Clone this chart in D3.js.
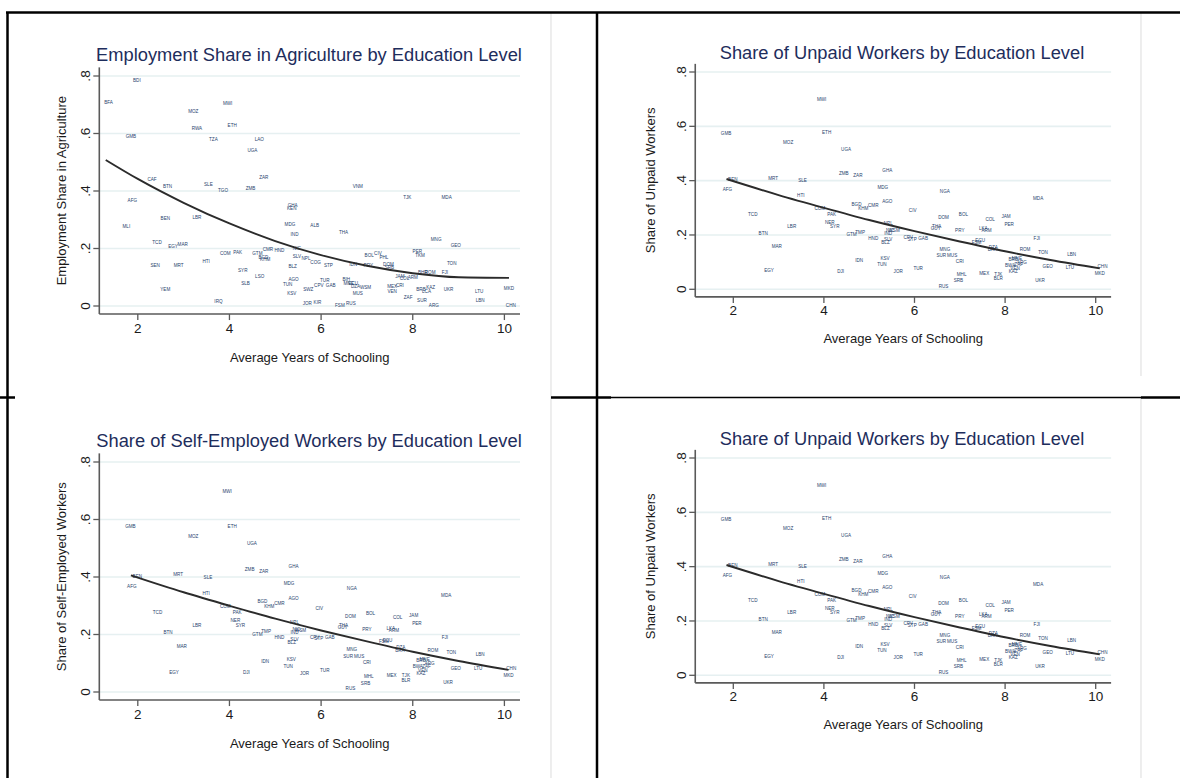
<!DOCTYPE html>
<html><head><meta charset="utf-8">
<script src="https://cdn.jsdelivr.net/npm/d3@7"></script>
<style>body{margin:0;background:#fff}svg{display:block}</style>
</head><body>
<svg id="c" width="1180" height="778"></svg>
<script>
// ---------- DATA ----------
const agCodes = ["BDI","BFA","MOZ","MWI","RWA","ETH","GMB","TZA","LAO","UGA","ZAR","CAF","BTN","SLE","TGO","ZMB","VNM","TJK","MDA","AFG","GHA","KEN","BEN","LBR","MLI","MDG","ALB","THA","IND","MNG","GEO","TCD","EGY","MAR","COM","PAK","GTM","CMR","HND","BGD","KHM","NIC","SLV","NPL","COG","STP","BLZ","HTI","SEN","MRT","SYR","LSO","SLB","AGO","TUN","KSV","SWZ","TUR","CPV","GAB","BOL","CIV","PHL","IDN","PRY","DOM","SRB","PER","TKM","TON","BHR","ROM","FJI","JAM","COL","ARM","IRQ","YEM","JOR","KIR","FSM","RUS","BIH","MNE","ECU","DZA","MUS","WSM","MEX","CRI","VEN","ZAF","SUR","ARG","BRB","KAZ","LCA","UKR","LTU","LBN","MKD","CHN"];
const agSchooling = [1.98,1.36,3.21,3.96,3.29,4.06,1.85,3.65,4.65,4.50,4.75,2.31,2.65,3.54,3.86,4.46,6.80,7.88,8.74,1.88,5.38,5.36,2.60,3.29,1.75,5.32,5.86,6.49,5.42,8.51,8.94,2.42,2.77,2.98,3.91,4.18,4.61,4.84,5.09,4.74,4.78,5.47,5.47,5.67,5.88,6.16,5.38,3.49,2.38,2.89,4.29,4.66,4.35,5.40,5.27,5.36,5.72,6.08,5.95,6.21,7.05,7.24,7.37,6.70,7.03,7.47,7.49,8.10,8.16,8.85,8.22,8.38,8.70,7.72,7.82,8.00,3.76,2.60,5.70,5.92,6.41,6.65,6.55,6.60,6.70,6.75,6.80,6.97,7.55,7.72,7.55,7.90,8.20,8.46,8.18,8.39,8.30,8.78,9.45,9.47,10.10,10.14];
const agShare = [.785,.708,.675,.706,.617,.627,.591,.580,.580,.542,.446,.441,.416,.423,.402,.410,.417,.378,.378,.366,.350,.338,.303,.307,.277,.285,.281,.255,.248,.233,.210,.222,.208,.213,.182,.186,.181,.195,.192,.170,.163,.200,.171,.164,.152,.140,.137,.154,.140,.140,.123,.104,.079,.091,.075,.042,.056,.087,.072,.072,.174,.183,.169,.146,.140,.145,.135,.189,.177,.147,.117,.117,.117,.101,.097,.100,.014,.058,.009,.012,.001,.007,.092,.078,.077,.068,.044,.065,.069,.072,.049,.031,.020,.003,.058,.065,.051,.059,.052,.020,.060,.003];

const unpaidCodes = ["MWI","GMB","ETH","MOZ","UGA","ZMB","ZAR","GHA","MRT","SLE","BEN","AFG","MDG","HTI","AGO","BGD","KHM","CMR","TCD","COM","PAK","NER","SYR","LBR","NPL","BTN","MAR","EGY","DJI","IDN","GTM","TMP","HND","SLV","BLZ","IND","NIC","KSV","TUN","JOR","NGA","MDA","CIV","DOM","BOL","COL","JAM","PER","THA","GUY","PRY","LKA","ARM","GAB","CPV","STP","FJI","ECU","FSM","DZA","BRA","ROM","TON","LBN","MNG","SUR","MUS","CRI","MNE","BRB","ARG","BWA","GEO","LTU","MKD","CHN","MHL","MEX","TJK","BLR","SRB","UKR","RUS","TUR","KAZ","VEN","ZAF","WSM"];
const unpaidSchooling = [3.95,1.84,4.06,3.21,4.49,4.44,4.75,5.40,2.88,3.53,1.99,1.87,5.30,3.49,5.40,4.72,4.87,5.09,2.43,3.91,4.17,4.13,4.24,3.29,5.42,2.66,2.96,2.79,4.37,4.78,4.61,4.80,5.09,5.42,5.36,5.42,5.46,5.35,5.28,5.64,6.67,8.73,5.96,6.64,7.08,7.67,8.02,8.09,6.49,6.47,7.00,7.52,7.59,6.19,5.86,5.95,8.70,7.45,7.37,7.74,7.72,8.44,8.84,9.47,6.67,6.59,6.83,7.00,8.26,8.18,8.37,8.11,8.94,9.43,10.09,10.15,7.04,7.54,7.85,7.85,6.97,8.77,6.64,6.08,8.18,8.22,8.30,5.55];
const unpaidShare = [.697,.575,.577,.540,.516,.427,.420,.437,.407,.400,.403,.368,.376,.344,.324,.314,.298,.307,.276,.298,.276,.247,.231,.231,.243,.206,.157,.069,.067,.105,.201,.209,.188,.184,.173,.206,.218,.114,.090,.065,.360,.335,.290,.264,.274,.258,.267,.237,.233,.225,.216,.222,.215,.188,.190,.185,.188,.179,.174,.155,.145,.145,.137,.129,.147,.123,.123,.102,.114,.108,.098,.087,.083,.081,.059,.083,.055,.059,.056,.040,.031,.032,.012,.075,.065,.075,.090,.215];

// the self-employed panel shows the same points as the unpaid panel
const selfEmpCodes = unpaidCodes;
const selfEmpSchooling = unpaidSchooling;
const selfEmpShare = unpaidShare;

// fitted lines
const agFitX = [1.3,2,3,4,5,6,7,8,9,10.1];
const agFitY = [.508,.442,.359,.287,.226,.177,.140,.114,.100,.098];
const unpaidFitX = [1.85,3,4,5,6,7,8,9,10.09];
const unpaidFitY = [.406,.347,.300,.255,.214,.176,.140,.108,.077];

const xTicks = [2,4,6,8,10];
const yTicks = [0,.2,.4,.6,.8];
const yTickLabels = ["0",".2",".4",".6",".8"];
const xExtent = [1.16,10.34];
const yExtent = [-0.028,0.83];

const titles = ["Employment Share in Agriculture by Education Level","Share of Unpaid Workers by Education Level","Share of Self-Employed Workers by Education Level","Share of Unpaid Workers by Education Level"];
const yTitles = ["Employment Share in Agriculture","Share of Unpaid Workers","Share of Self-Employed Workers","Share of Unpaid Workers"];
const xTitle = "Average Years of Schooling";

// ---------- LAYOUT ----------
const FONT = "'Liberation Sans', Arial, Helvetica, sans-serif";
const svg = d3.select("#c");

const panels = [
 {t:titles[0], yt:yTitles[0], codes:agCodes, xs:agSchooling, ys:agShare, fx:agFitX, fy:agFitY,
  xr:[137.8,504.4], yr:[306,76], tx:309, ty:54, ytX:61, xtY:357, xlY:328, ylX:85},
 {t:titles[1], yt:yTitles[1], codes:unpaidCodes, xs:unpaidSchooling, ys:unpaidShare, fx:unpaidFitX, fy:unpaidFitY,
  xr:[733.3,1095.7], yr:[289.3,72], tx:902, ty:52, ytX:650, xtY:338, xlY:310, ylX:681},
 {t:titles[2], yt:yTitles[2], codes:selfEmpCodes, xs:selfEmpSchooling, ys:selfEmpShare, fx:unpaidFitX, fy:unpaidFitY,
  xr:[137.8,504.4], yr:[692,462], tx:309, ty:440, ytX:61, xtY:743.5, xlY:714, ylX:85},
 {t:titles[3], yt:yTitles[3], codes:unpaidCodes, xs:unpaidSchooling, ys:unpaidShare, fx:unpaidFitX, fy:unpaidFitY,
  xr:[733.3,1095.7], yr:[675.3,458], tx:902, ty:438, ytX:650, xtY:724, xlY:696, ylX:681}
];

// table frame
const frame = svg.append("g");
const faint = "#e2e2e2";
frame.append("line").attr("x1",551).attr("x2",551).attr("y1",12).attr("y2",778).attr("stroke",faint).attr("stroke-width",1.2);
frame.append("line").attr("x1",1141).attr("x2",1141).attr("y1",12).attr("y2",376).attr("stroke",faint).attr("stroke-width",1.2);
frame.append("line").attr("x1",1141).attr("x2",1141).attr("y1",398).attr("y2",778).attr("stroke",faint).attr("stroke-width",1.2);
const blk = (x1,y1,x2,y2,w)=>frame.append("line").attr("x1",x1).attr("y1",y1).attr("x2",x2).attr("y2",y2).attr("stroke","#000").attr("stroke-width",w);
blk(6,12.5,1180,12.5,2.5);
blk(7.5,12,7.5,778,2.5);
blk(597,12,597,778,2.5);
blk(0,397.5,15,397.5,2.5);
blk(551,397.5,611,397.5,2.5);
blk(611,397.5,1141,397.5,1.5);
blk(1141,397.5,1180,397.5,2.5);

panels.forEach(p=>{
  const g = svg.append("g");
  const x = d3.scaleLinear().domain([2,10]).range(p.xr);
  const y = d3.scaleLinear().domain([0,.8]).range(p.yr);

  // grid
  g.selectAll(".grid").data(yTicks).join("line")
    .attr("x1",x(xExtent[0])).attr("x2",x(xExtent[1]))
    .attr("y1",d=>y(d)).attr("y2",d=>y(d))
    .attr("stroke","#e6f0f1").attr("stroke-width",1.6);

  // axis lines
  g.append("line").attr("x1",x(xExtent[0])).attr("x2",x(xExtent[0]))
    .attr("y1",y(yExtent[1])).attr("y2",y(yExtent[0]))
    .attr("stroke","#5a5a5a").attr("stroke-width",1.6);
  g.append("line").attr("x1",x(xExtent[0])).attr("x2",x(xExtent[1]))
    .attr("y1",y(yExtent[0])).attr("y2",y(yExtent[0]))
    .attr("stroke","#5a5a5a").attr("stroke-width",1.6);

  // y ticks
  g.selectAll(".yt").data(yTicks).join("line")
    .attr("x1",x(xExtent[0])-6).attr("x2",x(xExtent[0]))
    .attr("y1",d=>y(d)).attr("y2",d=>y(d))
    .attr("stroke","#5a5a5a").attr("stroke-width",1.3);
  g.selectAll(".yl").data(yTicks).join("text")
    .attr("transform",(d)=>`translate(${p.ylX},${y(d)}) rotate(-90)`)
    .attr("text-anchor","middle").attr("dominant-baseline","central")
    .attr("font-family",FONT).attr("font-size",13.5).attr("fill","#1a1a1a")
    .text((d,i)=>yTickLabels[i]);

  // x ticks
  g.selectAll(".xt").data(xTicks).join("line")
    .attr("x1",d=>x(d)).attr("x2",d=>x(d))
    .attr("y1",y(yExtent[0])).attr("y2",y(yExtent[0])+6)
    .attr("stroke","#5a5a5a").attr("stroke-width",1.3);
  g.selectAll(".xl").data(xTicks).join("text")
    .attr("x",d=>x(d)).attr("y",p.xlY)
    .attr("text-anchor","middle").attr("dominant-baseline","central")
    .attr("font-family",FONT).attr("font-size",13.5).attr("fill","#1a1a1a")
    .text(d=>d);

  // titles
  g.append("text").attr("x",p.tx).attr("y",p.ty)
    .attr("text-anchor","middle").attr("dominant-baseline","central")
    .attr("font-family",FONT).attr("font-size",18.3).attr("fill","#1e2d5c").text(p.t);
  g.append("text").attr("x",(x(xExtent[0])+x(xExtent[1]))/2).attr("y",p.xtY)
    .attr("text-anchor","middle").attr("dominant-baseline","central")
    .attr("font-family",FONT).attr("font-size",13).attr("fill","#1a1a1a").text(xTitle);
  const yMid = (y(yExtent[0])+y(yExtent[1]))/2;
  g.append("text").attr("transform",`translate(${p.ytX},${yMid}) rotate(-90)`)
    .attr("text-anchor","middle").attr("dominant-baseline","central")
    .attr("font-family",FONT).attr("font-size",13).attr("fill","#1a1a1a").text(p.yt);

  // country labels
  g.selectAll(".lab").data(p.codes).join("text")
    .attr("x",(d,i)=>x(p.xs[i])).attr("y",(d,i)=>y(p.ys[i]))
    .attr("text-anchor","middle").attr("dominant-baseline","central")
    .attr("font-family",FONT).attr("font-size",4.6).attr("fill","#1f3f6e")
    .text(d=>d);

  // fit line
  const pts = p.fx.map((v,i)=>[v,p.fy[i]]);
  g.append("path").datum(pts)
    .attr("d",d3.line().x(d=>x(d[0])).y(d=>y(d[1])).curve(d3.curveMonotoneX))
    .attr("fill","none").attr("stroke","#2b2b2b").attr("stroke-width",1.9);
});
</script>
</body></html>
